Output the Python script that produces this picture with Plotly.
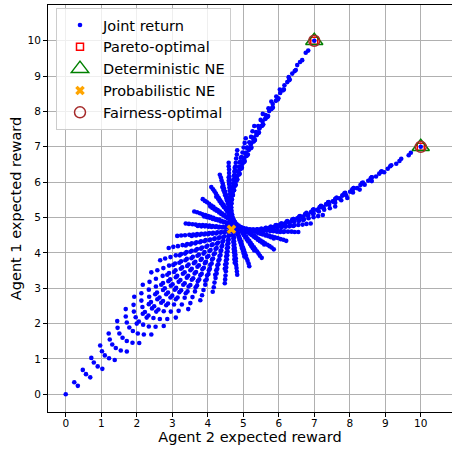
import plotly.graph_objects as go

# Joint returns, one row per group of points
JOINT_X = [
    [0, .34, .69, 1.03, 1.38, 1.72, 2.07, 2.41, 2.76, 3.10, 3.45, 3.79, 4.14, 4.48, 4.83, 5.17, 5.52, 5.86, 6.21, 6.55, 6.90, 7.24, 7.59, 7.93, 8.28, 8.62, 8.97, 9.31, 9.66, 10],
    [.24, .57, .90, 1.22, 1.55, 1.88, 2.20, 2.53, 2.86, 3.18, 3.51, 3.84, 4.17, 4.49, 4.82, 5.15, 5.47, 5.80, 6.13, 6.45, 6.78, 7.11, 7.44, 7.76, 8.09, 8.42, 8.74, 9.07, 9.40, 9.72],
    [.48, .79, 1.10, 1.41, 1.72, 2.03, 2.34, 2.65, 2.96, 3.27, 3.57, 3.88, 4.19, 4.50, 4.81, 5.12, 5.43, 5.74, 6.05, 6.36, 6.67, 6.98, 7.28, 7.59, 7.90, 8.21, 8.52, 8.83, 9.14, 9.45],
    [.72, 1.02, 1.31, 1.60, 1.89, 2.18, 2.47, 2.76, 3.05, 3.35, 3.64, 3.93, 4.22, 4.51, 4.80, 5.09, 5.39, 5.68, 5.97, 6.26, 6.55, 6.84, 7.13, 7.42, 7.72, 8.01, 8.30, 8.59, 8.88, 9.17],
    [.97, 1.24, 1.51, 1.79, 2.06, 2.33, 2.61, 2.88, 3.15, 3.43, 3.70, 3.97, 4.25, 4.52, 4.79, 5.07, 5.34, 5.61, 5.89, 6.16, 6.44, 6.71, 6.98, 7.26, 7.53, 7.80, 8.08, 8.35, 8.62, 8.90],
    [1.21, 1.46, 1.72, 1.97, 2.23, 2.49, 2.74, 3.00, 3.25, 3.51, 3.76, 4.02, 4.27, 4.53, 4.79, 5.04, 5.30, 5.55, 5.81, 6.06, 6.32, 6.58, 6.83, 7.09, 7.34, 7.60, 7.85, 8.11, 8.37, 8.62],
    [1.45, 1.69, 1.92, 2.16, 2.40, 2.64, 2.88, 3.11, 3.35, 3.59, 3.83, 4.06, 4.30, 4.54, 4.78, 5.02, 5.25, 5.49, 5.73, 5.97, 6.20, 6.44, 6.68, 6.92, 7.16, 7.39, 7.63, 7.87, 8.11, 8.34],
    [1.69, 1.91, 2.13, 2.35, 2.57, 2.79, 3.01, 3.23, 3.45, 3.67, 3.89, 4.11, 4.33, 4.55, 4.77, 4.99, 5.21, 5.43, 5.65, 5.87, 6.09, 6.31, 6.53, 6.75, 6.97, 7.19, 7.41, 7.63, 7.85, 8.07],
    [1.93, 2.13, 2.34, 2.54, 2.74, 2.94, 3.14, 3.35, 3.55, 3.75, 3.95, 4.15, 4.36, 4.56, 4.76, 4.96, 5.17, 5.37, 5.57, 5.77, 5.97, 6.18, 6.38, 6.58, 6.78, 6.98, 7.19, 7.39, 7.59, 7.79],
    [2.17, 2.36, 2.54, 2.73, 2.91, 3.09, 3.28, 3.46, 3.65, 3.83, 4.02, 4.20, 4.38, 4.57, 4.75, 4.94, 5.12, 5.31, 5.49, 5.67, 5.86, 6.04, 6.23, 6.41, 6.60, 6.78, 6.96, 7.15, 7.33, 7.52],
    [2.41, 2.58, 2.75, 2.91, 3.08, 3.25, 3.41, 3.58, 3.75, 3.91, 4.08, 4.25, 4.41, 4.58, 4.74, 4.91, 5.08, 5.24, 5.41, 5.58, 5.74, 5.91, 6.08, 6.24, 6.41, 6.58, 6.74, 6.91, 7.08, 7.24],
    [2.66, 2.80, 2.95, 3.10, 3.25, 3.40, 3.55, 3.70, 3.84, 3.99, 4.14, 4.29, 4.44, 4.59, 4.74, 4.88, 5.03, 5.18, 5.33, 5.48, 5.63, 5.78, 5.93, 6.07, 6.22, 6.37, 6.52, 6.67, 6.82, 6.97],
    [2.90, 3.03, 3.16, 3.29, 3.42, 3.55, 3.68, 3.81, 3.94, 4.07, 4.20, 4.34, 4.47, 4.60, 4.73, 4.86, 4.99, 5.12, 5.25, 5.38, 5.51, 5.64, 5.77, 5.91, 6.04, 6.17, 6.30, 6.43, 6.56, 6.69],
    [3.14, 3.25, 3.36, 3.48, 3.59, 3.70, 3.82, 3.93, 4.04, 4.15, 4.27, 4.38, 4.49, 4.61, 4.72, 4.83, 4.95, 5.06, 5.17, 5.28, 5.40, 5.51, 5.62, 5.74, 5.85, 5.96, 6.07, 6.19, 6.30, 6.41],
    [3.38, 3.47, 3.57, 3.66, 3.76, 3.86, 3.95, 4.05, 4.14, 4.24, 4.33, 4.43, 4.52, 4.62, 4.71, 4.81, 4.90, 5.00, 5.09, 5.19, 5.28, 5.38, 5.47, 5.57, 5.66, 5.76, 5.85, 5.95, 6.04, 6.14],
    [3.62, 3.70, 3.78, 3.85, 3.93, 4.01, 4.08, 4.16, 4.24, 4.32, 4.39, 4.47, 4.55, 4.63, 4.70, 4.78, 4.86, 4.93, 5.01, 5.09, 5.17, 5.24, 5.32, 5.40, 5.48, 5.55, 5.63, 5.71, 5.78, 5.86],
    [3.86, 3.92, 3.98, 4.04, 4.10, 4.16, 4.22, 4.28, 4.34, 4.40, 4.46, 4.52, 4.58, 4.63, 4.69, 4.75, 4.81, 4.87, 4.93, 4.99, 5.05, 5.11, 5.17, 5.23, 5.29, 5.35, 5.41, 5.47, 5.53, 5.59],
    [4.10, 4.15, 4.19, 4.23, 4.27, 4.31, 4.35, 4.39, 4.44, 4.48, 4.52, 4.56, 4.60, 4.64, 4.69, 4.73, 4.77, 4.81, 4.85, 4.89, 4.94, 4.98, 5.02, 5.06, 5.10, 5.14, 5.19, 5.23, 5.27, 5.31],
    [4.34, 4.37, 4.39, 4.42, 4.44, 4.46, 4.49, 4.51, 4.54, 4.56, 4.58, 4.61, 4.63, 4.65, 4.68, 4.70, 4.73, 4.75, 4.77, 4.80, 4.82, 4.84, 4.87, 4.89, 4.92, 4.94, 4.96, 4.99, 5.01, 5.03],
    [4.59, 4.59, 4.60, 4.60, 4.61, 4.62, 4.62, 4.63, 4.63, 4.64, 4.65, 4.65, 4.66, 4.66, 4.67, 4.68, 4.68, 4.69, 4.69, 4.70, 4.71, 4.71, 4.72, 4.72, 4.73, 4.73, 4.74, 4.75, 4.75, 4.76],
    [4.83, 4.82, 4.80, 4.79, 4.78, 4.77, 4.76, 4.74, 4.73, 4.72, 4.71, 4.70, 4.68, 4.67, 4.66, 4.65, 4.64, 4.63, 4.61, 4.60, 4.59, 4.58, 4.57, 4.55, 4.54, 4.53, 4.52, 4.51, 4.49, 4.48],
    [5.07, 5.04, 5.01, 4.98, 4.95, 4.92, 4.89, 4.86, 4.83, 4.80, 4.77, 4.74, 4.71, 4.68, 4.65, 4.62, 4.59, 4.56, 4.53, 4.50, 4.47, 4.44, 4.41, 4.39, 4.36, 4.33, 4.30, 4.27, 4.24, 4.21],
    [5.31, 5.26, 5.22, 5.17, 5.12, 5.07, 5.03, 4.98, 4.93, 4.88, 4.83, 4.79, 4.74, 4.69, 4.64, 4.60, 4.55, 4.50, 4.45, 4.41, 4.36, 4.31, 4.26, 4.22, 4.17, 4.12, 4.07, 4.03, 3.98, 3.93],
    [5.55, 5.49, 5.42, 5.36, 5.29, 5.22, 5.16, 5.09, 5.03, 4.96, 4.90, 4.83, 4.77, 4.70, 4.64, 4.57, 4.51, 4.44, 4.37, 4.31, 4.24, 4.18, 4.11, 4.05, 3.98, 3.92, 3.85, 3.79, 3.72, 3.66],
    [5.79, 5.71, 5.63, 5.54, 5.46, 5.38, 5.29, 5.21, 5.13, 5.04, 4.96, 4.88, 4.79, 4.71, 4.63, 4.54, 4.46, 4.38, 4.29, 4.21, 4.13, 4.05, 3.96, 3.88, 3.80, 3.71, 3.63, 3.55, 3.46, 3.38],
    [6.03, 5.93, 5.83, 5.73, 5.63, 5.53, 5.43, 5.33, 5.23, 5.12, 5.02, 4.92, 4.82, 4.72, 4.62, 4.52, 4.42, 4.32, 4.22, 4.11, 4.01, 3.91, 3.81, 3.71, 3.61, 3.51, 3.41, 3.31, 3.20, 3.10],
    [6.28, 6.16, 6.04, 5.92, 5.80, 5.68, 5.56, 5.44, 5.32, 5.21, 5.09, 4.97, 4.85, 4.73, 4.61, 4.49, 4.37, 4.25, 4.14, 4.02, 3.90, 3.78, 3.66, 3.54, 3.42, 3.30, 3.18, 3.07, 2.95, 2.83],
    [6.52, 6.38, 6.24, 6.11, 5.97, 5.83, 5.70, 5.56, 5.42, 5.29, 5.15, 5.01, 4.88, 4.74, 4.60, 4.47, 4.33, 4.19, 4.06, 3.92, 3.78, 3.65, 3.51, 3.37, 3.24, 3.10, 2.96, 2.83, 2.69, 2.55],
    [6.76, 6.60, 6.45, 6.29, 6.14, 5.99, 5.83, 5.68, 5.52, 5.37, 5.21, 5.06, 4.90, 4.75, 4.59, 4.44, 4.29, 4.13, 3.98, 3.82, 3.67, 3.51, 3.36, 3.20, 3.05, 2.89, 2.74, 2.58, 2.43, 2.28],
    [7.00, 6.83, 6.66, 6.48, 6.31, 6.14, 5.97, 5.79, 5.62, 5.45, 5.28, 5.10, 4.93, 4.76, 4.59, 4.41, 4.24, 4.07, 3.90, 3.72, 3.55, 3.38, 3.21, 3.03, 2.86, 2.69, 2.52, 2.34, 2.17, 2.00],
]

JOINT_Y = [
    [0, .24, .48, .72, .97, 1.21, 1.45, 1.69, 1.93, 2.17, 2.41, 2.66, 2.90, 3.14, 3.38, 3.62, 3.86, 4.10, 4.34, 4.59, 4.83, 5.07, 5.31, 5.55, 5.79, 6.03, 6.28, 6.52, 6.76, 7.00],
    [.34, .57, .79, 1.02, 1.24, 1.46, 1.69, 1.91, 2.13, 2.36, 2.58, 2.80, 3.03, 3.25, 3.47, 3.70, 3.92, 4.15, 4.37, 4.59, 4.82, 5.04, 5.26, 5.49, 5.71, 5.93, 6.16, 6.38, 6.60, 6.83],
    [.69, .90, 1.10, 1.31, 1.51, 1.72, 1.92, 2.13, 2.34, 2.54, 2.75, 2.95, 3.16, 3.36, 3.57, 3.78, 3.98, 4.19, 4.39, 4.60, 4.80, 5.01, 5.22, 5.42, 5.63, 5.83, 6.04, 6.24, 6.45, 6.66],
    [1.03, 1.22, 1.41, 1.60, 1.79, 1.97, 2.16, 2.35, 2.54, 2.73, 2.91, 3.10, 3.29, 3.48, 3.66, 3.85, 4.04, 4.23, 4.42, 4.60, 4.79, 4.98, 5.17, 5.36, 5.54, 5.73, 5.92, 6.11, 6.29, 6.48],
    [1.38, 1.55, 1.72, 1.89, 2.06, 2.23, 2.40, 2.57, 2.74, 2.91, 3.08, 3.25, 3.42, 3.59, 3.76, 3.93, 4.10, 4.27, 4.44, 4.61, 4.78, 4.95, 5.12, 5.29, 5.46, 5.63, 5.80, 5.97, 6.14, 6.31],
    [1.72, 1.88, 2.03, 2.18, 2.33, 2.49, 2.64, 2.79, 2.94, 3.09, 3.25, 3.40, 3.55, 3.70, 3.85, 4.01, 4.16, 4.31, 4.46, 4.62, 4.77, 4.92, 5.07, 5.22, 5.38, 5.53, 5.68, 5.83, 5.99, 6.14],
    [2.07, 2.20, 2.34, 2.47, 2.61, 2.74, 2.88, 3.01, 3.14, 3.28, 3.41, 3.55, 3.68, 3.82, 3.95, 4.08, 4.22, 4.35, 4.49, 4.62, 4.76, 4.89, 5.02, 5.16, 5.29, 5.43, 5.56, 5.70, 5.83, 5.97],
    [2.41, 2.53, 2.65, 2.76, 2.88, 3.00, 3.11, 3.23, 3.35, 3.46, 3.58, 3.70, 3.81, 3.93, 4.05, 4.16, 4.28, 4.39, 4.51, 4.63, 4.74, 4.86, 4.98, 5.09, 5.21, 5.33, 5.44, 5.56, 5.68, 5.79],
    [2.76, 2.86, 2.96, 3.05, 3.15, 3.25, 3.35, 3.45, 3.55, 3.65, 3.75, 3.84, 3.94, 4.04, 4.14, 4.24, 4.34, 4.44, 4.54, 4.63, 4.73, 4.83, 4.93, 5.03, 5.13, 5.23, 5.32, 5.42, 5.52, 5.62],
    [3.10, 3.18, 3.27, 3.35, 3.43, 3.51, 3.59, 3.67, 3.75, 3.83, 3.91, 3.99, 4.07, 4.15, 4.24, 4.32, 4.40, 4.48, 4.56, 4.64, 4.72, 4.80, 4.88, 4.96, 5.04, 5.12, 5.21, 5.29, 5.37, 5.45],
    [3.45, 3.51, 3.57, 3.64, 3.70, 3.76, 3.83, 3.89, 3.95, 4.02, 4.08, 4.14, 4.20, 4.27, 4.33, 4.39, 4.46, 4.52, 4.58, 4.65, 4.71, 4.77, 4.83, 4.90, 4.96, 5.02, 5.09, 5.15, 5.21, 5.28],
    [3.79, 3.84, 3.88, 3.93, 3.97, 4.02, 4.06, 4.11, 4.15, 4.20, 4.24, 4.29, 4.34, 4.38, 4.43, 4.47, 4.52, 4.56, 4.61, 4.65, 4.70, 4.74, 4.79, 4.83, 4.88, 4.92, 4.97, 5.01, 5.06, 5.10],
    [4.14, 4.17, 4.19, 4.22, 4.25, 4.27, 4.30, 4.33, 4.36, 4.38, 4.41, 4.44, 4.47, 4.49, 4.52, 4.55, 4.58, 4.60, 4.63, 4.66, 4.68, 4.71, 4.74, 4.77, 4.79, 4.82, 4.85, 4.88, 4.90, 4.93],
    [4.48, 4.49, 4.50, 4.51, 4.52, 4.53, 4.54, 4.55, 4.56, 4.57, 4.58, 4.59, 4.60, 4.61, 4.62, 4.63, 4.63, 4.64, 4.65, 4.66, 4.67, 4.68, 4.69, 4.70, 4.71, 4.72, 4.73, 4.74, 4.75, 4.76],
    [4.83, 4.82, 4.81, 4.80, 4.79, 4.79, 4.78, 4.77, 4.76, 4.75, 4.74, 4.74, 4.73, 4.72, 4.71, 4.70, 4.69, 4.69, 4.68, 4.67, 4.66, 4.65, 4.64, 4.64, 4.63, 4.62, 4.61, 4.60, 4.59, 4.59],
    [5.17, 5.15, 5.12, 5.09, 5.07, 5.04, 5.02, 4.99, 4.96, 4.94, 4.91, 4.88, 4.86, 4.83, 4.81, 4.78, 4.75, 4.73, 4.70, 4.68, 4.65, 4.62, 4.60, 4.57, 4.54, 4.52, 4.49, 4.47, 4.44, 4.41],
    [5.52, 5.47, 5.43, 5.39, 5.34, 5.30, 5.25, 5.21, 5.17, 5.12, 5.08, 5.03, 4.99, 4.95, 4.90, 4.86, 4.81, 4.77, 4.73, 4.68, 4.64, 4.59, 4.55, 4.51, 4.46, 4.42, 4.37, 4.33, 4.29, 4.24],
    [5.86, 5.80, 5.74, 5.68, 5.61, 5.55, 5.49, 5.43, 5.37, 5.31, 5.24, 5.18, 5.12, 5.06, 5.00, 4.93, 4.87, 4.81, 4.75, 4.69, 4.63, 4.56, 4.50, 4.44, 4.38, 4.32, 4.25, 4.19, 4.13, 4.07],
    [6.21, 6.13, 6.05, 5.97, 5.89, 5.81, 5.73, 5.65, 5.57, 5.49, 5.41, 5.33, 5.25, 5.17, 5.09, 5.01, 4.93, 4.85, 4.77, 4.69, 4.61, 4.53, 4.45, 4.37, 4.29, 4.22, 4.14, 4.06, 3.98, 3.90],
    [6.55, 6.45, 6.36, 6.26, 6.16, 6.06, 5.97, 5.87, 5.77, 5.67, 5.58, 5.48, 5.38, 5.28, 5.19, 5.09, 4.99, 4.89, 4.80, 4.70, 4.60, 4.50, 4.41, 4.31, 4.21, 4.11, 4.02, 3.92, 3.82, 3.72],
    [6.90, 6.78, 6.67, 6.55, 6.44, 6.32, 6.20, 6.09, 5.97, 5.86, 5.74, 5.63, 5.51, 5.40, 5.28, 5.17, 5.05, 4.94, 4.82, 4.71, 4.59, 4.47, 4.36, 4.24, 4.13, 4.01, 3.90, 3.78, 3.67, 3.55],
    [7.24, 7.11, 6.98, 6.84, 6.71, 6.58, 6.44, 6.31, 6.18, 6.04, 5.91, 5.78, 5.64, 5.51, 5.38, 5.24, 5.11, 4.98, 4.84, 4.71, 4.58, 4.44, 4.31, 4.18, 4.05, 3.91, 3.78, 3.65, 3.51, 3.38],
    [7.59, 7.44, 7.28, 7.13, 6.98, 6.83, 6.68, 6.53, 6.38, 6.23, 6.08, 5.93, 5.77, 5.62, 5.47, 5.32, 5.17, 5.02, 4.87, 4.72, 4.57, 4.42, 4.26, 4.11, 3.96, 3.81, 3.66, 3.51, 3.36, 3.21],
    [7.93, 7.76, 7.59, 7.42, 7.26, 7.09, 6.92, 6.75, 6.58, 6.41, 6.24, 6.07, 5.90, 5.74, 5.57, 5.40, 5.23, 5.06, 4.89, 4.72, 4.55, 4.39, 4.22, 4.05, 3.88, 3.71, 3.54, 3.37, 3.20, 3.03],
    [8.28, 8.09, 7.90, 7.72, 7.53, 7.34, 7.16, 6.97, 6.78, 6.60, 6.41, 6.22, 6.04, 5.85, 5.66, 5.48, 5.29, 5.10, 4.92, 4.73, 4.54, 4.36, 4.17, 3.98, 3.80, 3.61, 3.42, 3.24, 3.05, 2.86],
    [8.62, 8.42, 8.21, 8.01, 7.80, 7.60, 7.39, 7.19, 6.98, 6.78, 6.58, 6.37, 6.17, 5.96, 5.76, 5.55, 5.35, 5.14, 4.94, 4.73, 4.53, 4.33, 4.12, 3.92, 3.71, 3.51, 3.30, 3.10, 2.89, 2.69],
    [8.97, 8.74, 8.52, 8.30, 8.08, 7.85, 7.63, 7.41, 7.19, 6.96, 6.74, 6.52, 6.30, 6.07, 5.85, 5.63, 5.41, 5.19, 4.96, 4.74, 4.52, 4.30, 4.07, 3.85, 3.63, 3.41, 3.18, 2.96, 2.74, 2.52],
    [9.31, 9.07, 8.83, 8.59, 8.35, 8.11, 7.87, 7.63, 7.39, 7.15, 6.91, 6.67, 6.43, 6.19, 5.95, 5.71, 5.47, 5.23, 4.99, 4.75, 4.51, 4.27, 4.03, 3.79, 3.55, 3.31, 3.07, 2.83, 2.59, 2.34],
    [9.66, 9.40, 9.14, 8.88, 8.62, 8.37, 8.11, 7.85, 7.59, 7.33, 7.07, 6.82, 6.56, 6.30, 6.04, 5.78, 5.53, 5.27, 5.01, 4.75, 4.49, 4.24, 3.98, 3.72, 3.46, 3.20, 2.95, 2.69, 2.43, 2.17],
    [10.00, 9.72, 9.45, 9.17, 8.90, 8.62, 8.34, 8.07, 7.79, 7.52, 7.24, 6.97, 6.69, 6.41, 6.14, 5.86, 5.59, 5.31, 5.03, 4.76, 4.48, 4.21, 3.93, 3.66, 3.38, 3.10, 2.83, 2.55, 2.28, 2.00],
]

PARETO_X = [7, 10]
PARETO_Y = [10, 7]
DET_NE_X = [7, 10]
DET_NE_Y = [10, 7]
PROB_NE_X = [4.667]
PROB_NE_Y = [4.667]
FAIR_X = [7, 10]
FAIR_Y = [10, 7]
TICKS = [0, 1, 2, 3, 4, 5, 6, 7, 8, 9, 10]

FONT = "DejaVu Sans"

jx = [v for row in JOINT_X for v in row]
jy = [v for row in JOINT_Y for v in row]

fig = go.Figure()
fig.add_trace(go.Scatter(
    x=jx, y=jy, mode="markers", name="Joint return", legendgroup="a",
    marker=dict(color="#0000ff", size=4.6, line=dict(width=0)),
))
fig.add_trace(go.Scatter(
    x=PARETO_X, y=PARETO_Y, mode="markers", name="Pareto-optimal", legendgroup="b",
    marker=dict(symbol="square-open", color="#ff0000", size=7, line=dict(width=1.5)),
))
fig.add_trace(go.Scatter(
    x=DET_NE_X, y=DET_NE_Y, mode="markers", name="Deterministic NE", legendgroup="c",
    marker=dict(symbol="triangle-up-open", color="#008000", size=15, line=dict(width=1.5)),
))
fig.add_trace(go.Scatter(
    x=PROB_NE_X, y=PROB_NE_Y, mode="markers", name="Probabilistic NE", legendgroup="d",
    marker=dict(symbol="x", color="#ffa500", size=8.5, line=dict(width=0)),
))
fig.add_trace(go.Scatter(
    x=FAIR_X, y=FAIR_Y, mode="markers", name="Fairness-optimal", legendgroup="e",
    marker=dict(symbol="circle-open", color="#a52a2a", size=11, line=dict(width=1.5)),
))

axis_common = dict(
    tickvals=TICKS, ticktext=[str(t) for t in TICKS],
    ticks="outside", ticklen=4, tickwidth=1, tickcolor="black",
    showline=True, linecolor="black", linewidth=1,
    showgrid=True, gridcolor="#b0b0b0", gridwidth=1,
    zeroline=False, tickfont=dict(size=10.5, family=FONT, color="black"),
)

fig.update_layout(
    width=452, height=449,
    margin=dict(l=48, r=0, t=5, b=37),
    plot_bgcolor="white", paper_bgcolor="white",
    font=dict(family=FONT, color="black"),
    xaxis=dict(range=[-0.5, 10.88], mirror=True, ticklabelstandoff=-3,
               title=dict(text="Agent 2 expected reward", font=dict(size=14.5, family=FONT), standoff=1),
               **axis_common),
    yaxis=dict(range=[-0.5, 11.01], mirror=False,
               title=dict(text="Agent 1 expected reward", font=dict(size=14.5, family=FONT), standoff=2),
               **axis_common),
    legend=dict(
        x=0.0198, y=0.9926, xanchor="left", yanchor="top",
        bgcolor="rgba(255,255,255,0.8)", bordercolor="#cccccc", borderwidth=1,
        font=dict(size=14.5, family=FONT, color="black"),
        tracegroupgap=2.5, itemwidth=36, traceorder="normal",
    ),
    showlegend=True,
)

fig.write_html("out.html")
